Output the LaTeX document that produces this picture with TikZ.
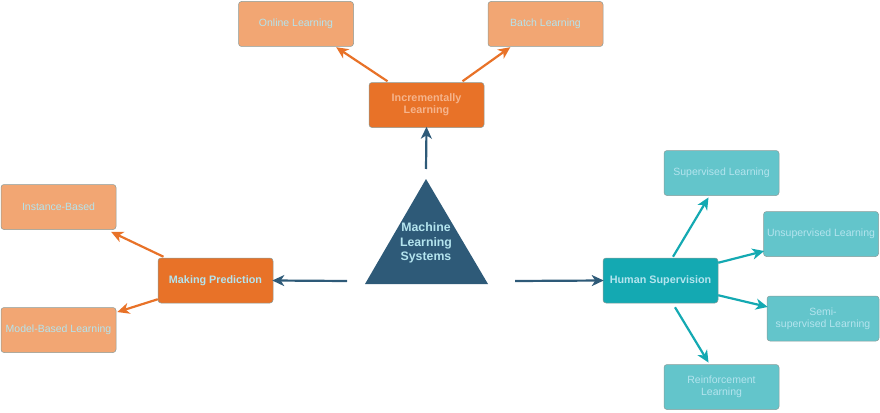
\documentclass[tikz,border=0pt]{standalone}
\usepackage{fontspec}
\setmainfont{Liberation Sans}
\usetikzlibrary{arrows.meta}
\definecolor{lorange}{HTML}{F2A673}
\definecolor{dorange}{HTML}{E87228}
\definecolor{dteal}{HTML}{14A9B2}
\definecolor{lteal}{HTML}{63C5CB}
\definecolor{navy}{HTML}{2E5A78}
\definecolor{txtc}{HTML}{B4E4EE}
\definecolor{txtp}{HTML}{F5B48C}
\definecolor{bord}{HTML}{8A9C9A}
\tikzset{
  box/.style={draw=bord, line width=0.5pt, rounded corners=3pt, minimum width=115pt, minimum height=45pt, inner sep=1pt, align=center, font=\fontsize{10.5}{12}\selectfont, text=txtc},
  lobox/.style={box, fill=lorange},
  dobox/.style={box, fill=dorange, font=\fontsize{10.8}{12}\selectfont\bfseries},
  ltbox/.style={box, fill=lteal},
  dtbox/.style={box, fill=dteal, font=\fontsize{10.8}{12}\selectfont\bfseries},
  arr/.style={line width=2.2pt, -{Stealth[length=12pt,width=11pt,inset=3.5pt]}, shorten >=-1pt},
  oarr/.style={arr, draw=dorange},
  narr/.style={arr, draw=navy},
  tarr/.style={arr, draw=dteal},
}
\begin{document}
\begin{tikzpicture}[x=1pt,y=-1pt]
\useasboundingbox (0,0) rectangle (880,412);
% triangle
\fill[navy] (426,179) -- (488,284) -- (365,284) -- cycle;
\node[font=\fontsize{12.3}{14.5}\selectfont\bfseries, text=txtc, align=center] (mls) at (426,243) {Machine\\Learning\\Systems};
\coordinate (tritop) at (426,169);
\coordinate (trileft) at (347,281);
\coordinate (triright) at (515,281);
% top
\node[dobox, text=txtp] (inc) at (426.5,105) {Incrementally\\Learning};
\node[lobox] (onl) at (296,24) {Online Learning};
\node[lobox] (bat) at (545.5,24) {Batch Learning};
% left
\node[dobox] (mp) at (215.5,280.5) {Making Prediction};
\node[lobox] (ib) at (58.5,207) {Instance-Based};
\node[lobox] (mb) at (58.5,330) {Model-Based Learning};
% right
\node[dtbox] (hs) at (660.5,280.5) {Human Supervision};
\node[ltbox] (sl) at (721.5,173) {Supervised Learning};
\node[ltbox] (ul) at (821,234) {Unsupervised Learning};
\node[ltbox, minimum width=112pt] (ssl) at (823,318.5) {Semi-\\supervised Learning};
\node[ltbox] (rl) at (721.5,387) {Reinforcement\\Learning};
% arrows
\draw[narr] (tritop) -- (inc.south);
\draw[narr] (trileft) -- (mp.east);
\draw[narr] (triright) -- (hs.west);
\draw[oarr] ([xshift=-39pt,yshift=1pt]inc.north) -- ([xshift=41pt,yshift=-1pt]onl.south);
\draw[oarr] ([xshift=36pt,yshift=1pt]inc.north) -- ([xshift=-36pt,yshift=-1pt]bat.south);
\draw[oarr] ([xshift=-52pt,yshift=1pt]mp.north) -- ([xshift=53.5pt,yshift=-2.5pt]ib.south);
\draw[oarr] ([yshift=4pt]mp.south west) -- ([xshift=2pt,yshift=-4.5pt]mb.north east);
\draw[tarr] ([xshift=12.5pt,yshift=1pt]hs.north) -- ([xshift=-13.5pt,yshift=-2.5pt]sl.south);
\draw[tarr] ([yshift=-5pt]hs.north east) -- ([yshift=5.5pt]ul.south west);
\draw[tarr] ([yshift=8pt]hs.south east) -- ([yshift=-11pt]ssl.north west);
\draw[tarr] ([xshift=14.5pt,yshift=-4pt]hs.south) -- ([xshift=-13.5pt,yshift=2.5pt]rl.north);
\end{tikzpicture}
\end{document}
